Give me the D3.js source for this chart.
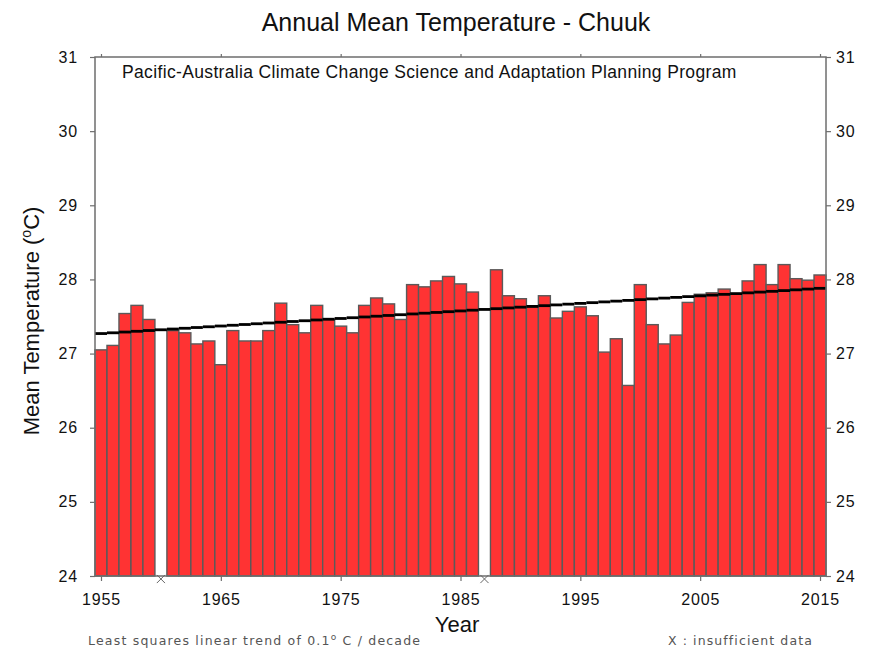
<!DOCTYPE html>
<html>
<head>
<meta charset="utf-8">
<script src="https://cdn.jsdelivr.net/npm/d3@7"></script>
<style>
  body { margin: 0; background: #fff; }
  text { font-family: "Liberation Sans", Arial, sans-serif; }
</style>
</head>
<body>
<div id="chart"></div>
<script>
// data
var years = d3.range(1955, 2016)
var temps = [
  27.05, 27.11, 27.54, 27.65, 27.46, null, 27.31, 27.28, 27.13, 27.17,
  26.85, 27.31, 27.17, 27.17, 27.31, 27.68, 27.39, 27.28, 27.65, 27.46,
  27.37, 27.28, 27.65, 27.75, 27.67, 27.46, 27.93, 27.90, 27.98, 28.04,
  27.94, 27.83, null, 28.13, 27.78, 27.74, 27.63, 27.78, 27.48, 27.57,
  27.63, 27.51, 27.02, 27.20, 26.57, 27.93, 27.39, 27.13, 27.25, 27.69,
  27.80, 27.82, 27.87, 27.80, 27.98, 28.20, 27.93, 28.20, 28.01, 27.99,
  28.06
]
var trendYears = [1955, 2015]
var trendValues = [27.27, 27.88]
var xTicks = [1955, 1965, 1975, 1985, 1995, 2005, 2015]
var yTicks = [24, 25, 26, 27, 28, 29, 30, 31]

function drawChart(){

    var W = 877, H = 651
    var mLeft = 95, mRight = 826, mTop = 57, mBottom = 576

    var svg = d3.select("#chart").append("svg")
        .attr("width", W)
        .attr("height", H)

    var x = d3.scaleLinear().domain([1954.5, 2015.5]).range([mLeft, mRight])
    var y = d3.scaleLinear().domain([24, 31]).range([mBottom, mTop])
    var bw = x(1) - x(0)

    var data = years.map(function(yr, i){ return { year: yr, value: temps[i] } })

    // bars
    svg.append("g").selectAll("rect")
        .data(data.filter(function(d){ return d.value != null }))
        .enter()
        .append("rect")
            .attr("x", function(d){ return x(d.year - 0.5) })
            .attr("y", function(d){ return y(d.value) })
            .attr("width", bw)
            .attr("height", function(d){ return y(24) - y(d.value) })
            .attr("fill", "#ff3333")
            .attr("stroke", "#5a5a5a")
            .attr("stroke-width", 1.4)

    // trend line, drawn as short yearly steps
    var trend = d3.scaleLinear().domain(trendYears).range(trendValues)
    svg.append("g").selectAll("line")
        .data(years)
        .enter()
        .append("line")
            .attr("x1", function(d){ return x(d - 0.5) })
            .attr("x2", function(d){ return x(d + 0.5) })
            .attr("y1", function(d){ return y(trend(d)) })
            .attr("y2", function(d){ return y(trend(d)) })
            .attr("stroke", "#000")
            .attr("stroke-width", 2.8)

    // frame
    svg.append("rect")
        .attr("x", mLeft).attr("y", mTop)
        .attr("width", mRight - mLeft).attr("height", mBottom - mTop)
        .attr("fill", "none")
        .attr("stroke", "#6e6e6e")
        .attr("stroke-width", 1.5)

    // missing-year markers
    svg.append("g").selectAll("path")
        .data(data.filter(function(d){ return d.value == null }))
        .enter()
        .append("path")
            .attr("transform", function(d){ return "translate(" + x(d.year) + "," + (y(24) + 3) + ")" })
            .attr("d", d3.symbol(d3.symbolX, 45))
            .attr("fill", "none")
            .attr("stroke", "#666")
            .attr("stroke-width", 1)

    function styleAxis(g){
        g.select(".domain").remove()
        g.selectAll(".tick line").attr("stroke", "#6e6e6e").attr("stroke-width", 1.2)
        g.selectAll(".tick text").attr("font-size", 16).attr("fill", "#111")
            .attr("letter-spacing", 0.8)
            .style("font-family", "'Liberation Sans', Arial, sans-serif")
    }

    svg.append("g")
        .attr("transform", "translate(0," + mBottom + ")")
        .call(d3.axisBottom(x).tickValues(xTicks).tickFormat(d3.format("d")).tickSize(5).tickPadding(13))
        .call(styleAxis)

    svg.append("g")
        .attr("transform", "translate(0," + mTop + ")")
        .call(d3.axisTop(x).tickValues(xTicks).tickFormat("").tickSize(3))
        .call(styleAxis)

    svg.append("g")
        .attr("transform", "translate(" + mLeft + ",0)")
        .call(d3.axisLeft(y).tickValues(yTicks).tickFormat(d3.format("d")).tickSize(5).tickPadding(12))
        .call(styleAxis)

    svg.append("g")
        .attr("transform", "translate(" + mRight + ",0)")
        .call(d3.axisRight(y).tickValues(yTicks).tickFormat(d3.format("d")).tickSize(5).tickPadding(5))
        .call(styleAxis)

    // texts
    svg.append("text")
        .attr("x", 456).attr("y", 31)
        .attr("text-anchor", "middle")
        .attr("font-size", 25)
        .attr("fill", "#111")
        .text("Annual Mean Temperature - Chuuk")

    svg.append("text")
        .attr("x", 122).attr("y", 78)
        .attr("font-size", 17.5)
        .attr("letter-spacing", 0.35)
        .attr("fill", "#111")
        .text("Pacific-Australia Climate Change Science and Adaptation Planning Program")

    var ylab = svg.append("text")
        .attr("transform", "translate(39," + 321 + ") rotate(-90)")
        .attr("text-anchor", "middle")
        .attr("font-size", 22)
        .attr("fill", "#111")
    ylab.append("tspan").text("Mean Temperature (")
    ylab.append("tspan").attr("dy", -8).attr("font-size", 14).text("o")
    ylab.append("tspan").attr("dy", 8).text("C)")

    svg.append("text")
        .attr("x", 457).attr("y", 632)
        .attr("text-anchor", "middle")
        .attr("font-size", 22)
        .attr("fill", "#111")
        .text("Year")

    var foot = svg.append("text")
        .attr("x", 88).attr("y", 645)
        .attr("font-size", 12.5)
        .attr("fill", "#555")
        .attr("letter-spacing", 1.2)
        .style("font-family", "'DejaVu Sans', Verdana, sans-serif")
    foot.append("tspan").text("Least squares linear trend of 0.1")
    foot.append("tspan").attr("dy", -5).attr("font-size", 9).text("o")
    foot.append("tspan").attr("dy", 5).text(" C / decade")

    svg.append("text")
        .attr("x", 668).attr("y", 645)
        .attr("font-size", 12.5)
        .attr("fill", "#555")
        .attr("letter-spacing", 1.1)
        .style("font-family", "'DejaVu Sans', Verdana, sans-serif")
        .text("X : insufficient data")
}

drawChart()
</script>
</body>
</html>
